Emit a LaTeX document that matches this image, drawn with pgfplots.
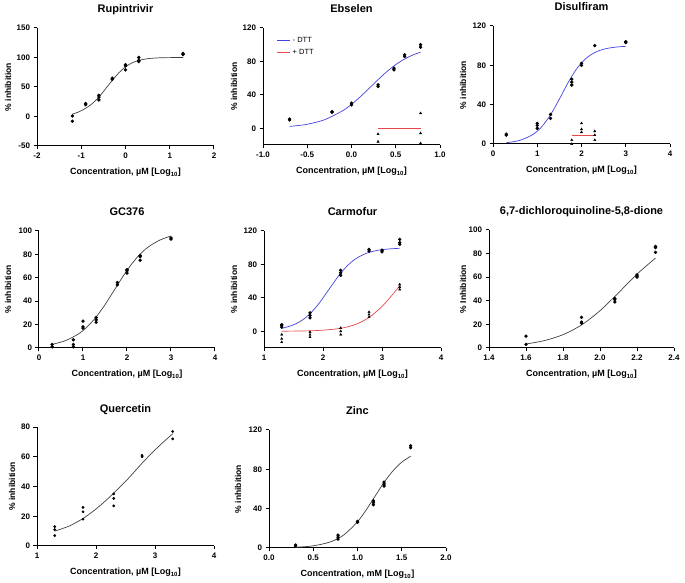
\documentclass[border=0pt]{standalone}
\usepackage{fontspec}
\setmainfont{Liberation Sans}
\usepackage{pgfplots}
\pgfplotsset{compat=1.18}

\definecolor{fitblue}{RGB}{66,66,225}
\definecolor{fitred}{RGB}{232,72,72}

\pgfplotsset{
  prism/.style={
    scale only axis,
    axis x line*=bottom, axis y line*=left,
    axis line style={line width=1pt, black},
    tick align=outside, major tick length=3.5pt,
    tick style={line width=1pt, black},
    ticklabel style={font=\bfseries\fontsize{8}{9}\selectfont},
    /pgf/number format/assume math mode=true,
    every axis title/.style={font=\bfseries\fontsize{11}{12}\selectfont,
      at={(axis description cs:0.5,1)}, anchor=base, yshift=15pt},
    xlabel style={font=\bfseries\fontsize{9}{10}\selectfont,
      at={([yshift=-29pt]axis description cs:0.5,0)}, anchor=base},
    ylabel style={font=\bfseries\fontsize{8.5}{10}\selectfont, anchor=center},
    ylabel={\% inhibition},
    xlabel={Concentration, µM [Log\textsubscript{10}]},
    clip=false,
  },
  dots/.style={only marks, mark=*, mark size=1.5pt, black, forget plot},
  tris/.style={only marks, mark=triangle*, mark size=1.3pt, black, forget plot},
  fit/.style={smooth, line width=0.7pt, black!75, no marks},
  onedec/.style={xticklabel style={/pgf/number format/.cd, fixed, fixed zerofill, precision=1}},
}

\begin{document}
\begin{tikzpicture}
\useasboundingbox (0,0) rectangle (685pt,583pt);

% Rupintrivir
\begin{axis}[prism, at={(37pt,437pt)}, anchor=south west, width=177pt, height=118pt,
  title={Rupintrivir}, xmin=-2, xmax=2, ymin=-50, ymax=150,
  xtick={-2,-1,0,1,2}, ytick={-50,0,50,100,150},
  ylabel style={at={([xshift=-29pt]axis description cs:0,0.5)}}]
\addplot[dots] coordinates {(-1.2,1)(-1.2,-8)(-0.9,20)(-0.9,22)(-0.6,28)(-0.6,33)(-0.6,36)
  (-0.3,63)(-0.3,65)(0,79)(0,86)(0,88)(0.3,93)(0.3,95)(0.3,100)(1.3,105)(1.3,107)};
\addplot[fit] coordinates {(-1.2,4)(-1.05,8)(-0.9,14)(-0.75,22)(-0.6,33)(-0.45,47)(-0.3,61)
  (-0.15,74)(0,84)(0.15,91)(0.3,95)(0.5,98)(0.75,99.4)(1.0,99.8)(1.3,100)};
\end{axis}

% Ebselen
\begin{axis}[prism, onedec, at={(263pt,438pt)}, anchor=south west, width=177pt, height=117pt,
  title={Ebselen}, xmin=-1, xmax=1, ymin=-20, ymax=120,
  xtick={-1,-0.5,0,0.5,1}, ytick={0,40,80,120},
  ylabel style={at={([xshift=-29pt]axis description cs:0,0.5)}},
  legend style={draw=none, fill=none, at={(0.06,0.96)}, anchor=north west,
    font=\fontsize{7.5}{9}\selectfont, row sep=2pt},
  legend cell align=left,
  legend image code/.code={\draw[#1] (0pt,0pt) -- (13pt,0pt);}]
\addplot[dots] coordinates {(-0.7,10)(-0.7,11)(-0.22,19)(-0.22,20)(0,28)(0,30)(0.3,50)(0.3,52)
  (0.48,70)(0.48,72)(0.6,86)(0.6,88)(0.78,97)(0.78,100)};
\addplot[tris] coordinates {(0.3,-7)(0.3,-16)(0.78,18)(0.78,-6)(0.78,-18)};
\addplot[smooth, line width=0.7pt, fitblue] coordinates {(-0.7,2.2)(-0.5,4.8)(-0.3,10.4)(-0.1,21)
  (0,28.6)(0.1,37.8)(0.2,47.9)(0.3,58.2)(0.4,67.8)(0.5,76.2)(0.6,82.9)(0.7,88)(0.78,91)};
\addlegendentry{- DTT}
\addplot[line width=0.9pt, fitred] coordinates {(0.3,0)(0.78,0)};
\addlegendentry{+ DTT}
\end{axis}

% Disulfiram
\begin{axis}[prism, at={(493pt,439pt)}, anchor=south west, width=177pt, height=118pt,
  title={Disulfiram}, xmin=0, xmax=4, ymin=0, ymax=120,
  xtick={0,1,2,3,4}, ytick={0,40,80,120},
  ylabel style={at={([xshift=-30pt]axis description cs:0,0.5)}}]
\addplot[dots] coordinates {(0.3,9)(0.3,10)(1,16)(1,19)(1,21)(1.3,26)(1.3,30)(1.78,60)(1.78,63)(1.78,66)
  (2,80)(2,82)(2.3,100)(3,103)(3,104)};
\addplot[tris] coordinates {(1.78,4)(1.78,0)(2,21)(2,15)(2,12)(2.3,4)(2.3,9)(2.3,13)};
\addplot[smooth, line width=0.7pt, fitblue] coordinates {(0.3,1.3)(0.6,3.6)(0.9,9.6)(1.1,17.5)(1.3,29.7)
  (1.5,45.7)(1.7,62.7)(1.9,77)(2.1,87)(2.3,93)(2.5,96.4)(2.75,98.4)(3,99.3)};
\addplot[line width=0.9pt, fitred] coordinates {(1.78,9)(2.3,9)};
\end{axis}

% GC376
\begin{axis}[prism, at={(39pt,235pt)}, anchor=south west, width=176pt, height=117pt,
  title={GC376}, xmin=0, xmax=4, ymin=0, ymax=100,
  xtick={0,1,2,3,4}, ytick={0,20,40,60,80,100},
  ylabel style={at={([xshift=-31pt]axis description cs:0,0.5)}}]
\addplot[dots] coordinates {(0.3,1)(0.3,3)(0.78,1)(0.78,3)(0.78,7)(1,17)(1,18)(1,23)(1.3,22)(1.3,24)(1.3,26)
  (1.78,54)(1.78,56)(2,64)(2,66)(2,67)(2.3,75)(2.3,78)(2.3,79)(3,93)(3,94)};
\addplot[fit] coordinates {(0.3,3.1)(0.6,6.25)(0.9,12.1)(1.1,18.3)(1.3,26.6)(1.5,37)(1.7,48.8)
  (1.9,60.7)(2.1,71.5)(2.3,80.3)(2.5,86.8)(2.75,92.3)(3,95.7)};
\end{axis}

% Carmofur
\begin{axis}[prism, at={(264pt,235pt)}, anchor=south west, width=177pt, height=117pt,
  title={Carmofur}, xmin=1, xmax=4, ymin=-20, ymax=120,
  xtick={1,2,3,4}, ytick={0,40,80,120},
  ylabel style={at={([xshift=-30pt]axis description cs:0,0.5)}}]
\addplot[dots] coordinates {(1.3,5)(1.3,7)(1.3,8)(1.78,16)(1.78,19)(1.78,22)(2.3,67)(2.3,70)(2.3,73)
  (2.78,96)(2.78,98)(3,95)(3,97)(3.3,104)(3.3,106)(3.3,110)};
\addplot[tris] coordinates {(1.3,-4)(1.3,-9)(1.3,-13)(1.78,-1)(1.78,-4)(1.78,-7)(2.3,4)(2.3,0)(2.3,-4)
  (2.78,17)(2.78,20)(2.78,23)(3.3,50)(3.3,53)(3.3,56)};
\addplot[smooth, line width=0.7pt, fitblue] coordinates {(1.3,3.5)(1.5,7.7)(1.7,16)(1.9,30.4)(2.1,50)
  (2.3,69.6)(2.5,84)(2.7,92.3)(2.9,96.5)(3.1,98.4)(3.3,99.3)};
\addplot[smooth, line width=0.7pt, fitred] coordinates {(1.3,0.1)(1.6,0.3)(1.9,0.9)(2.2,2.6)(2.4,5)
  (2.6,9.6)(2.8,17.5)(3,29.7)(3.15,41.5)(3.3,54.3)};
\end{axis}

% 6,7-dichloroquinoline-5,8-dione
\begin{axis}[prism, onedec, at={(489pt,235pt)}, anchor=south west, width=185pt, height=118pt,
  title={6,7-dichloroquinoline-5,8-dione}, xmin=1.4, xmax=2.4, ymin=0, ymax=100,
  xtick={1.4,1.6,1.8,2.0,2.2,2.4}, ytick={0,20,40,60,80,100},
  ylabel={\% Inhibition},
  ylabel style={at={([xshift=-26pt]axis description cs:0,0.5)}}]
\addplot[dots] coordinates {(1.6,3)(1.6,10)(1.9,21)(1.9,22)(1.9,26)(2.08,39)(2.08,41)(2.08,42)
  (2.2,60)(2.2,61)(2.2,62)(2.3,81)(2.3,85)(2.3,86)};
\addplot[fit] coordinates {(1.6,3.4)(1.7,6.3)(1.8,11.3)(1.9,19.5)(2,31.6)(2.1,46.8)(2.2,62.6)(2.3,76.2)};
\end{axis}

% Quercetin
\begin{axis}[prism, at={(37pt,37pt)}, anchor=south west, width=177pt, height=119pt,
  title={Quercetin}, xmin=1, xmax=4, ymin=0, ymax=80,
  xtick={1,2,3,4}, ytick={0,20,40,60,80},
  ylabel style={at={([xshift=-25pt]axis description cs:0,0.5)}}]
\addplot[dots, mark size=1.2pt] coordinates {(1.3,7)(1.3,11)(1.3,13)(1.78,18)(1.78,23)(1.78,26)
  (2.3,27)(2.3,32)(2.3,35)(2.78,60)(2.78,61)(3.3,72)(3.3,77)};
\addplot[fit] coordinates {(1.3,10)(1.55,13.5)(1.8,19)(2.05,26.5)(2.3,35.5)(2.55,45.5)(2.8,56.5)
  (3.05,66.5)(3.3,75.5)};
\end{axis}

% Zinc
\begin{axis}[prism, onedec, at={(269pt,35pt)}, anchor=south west, width=177pt, height=118pt,
  title={Zinc}, xmin=0, xmax=2, ymin=0, ymax=120,
  xtick={0,0.5,1,1.5,2}, ytick={0,40,80,120},
  xlabel={Concentration, mM [Log\textsubscript{10}]},
  ylabel style={at={([xshift=-31pt]axis description cs:0,0.5)}}]
\addplot[dots] coordinates {(0.3,2)(0.3,3)(0.78,9)(0.78,11)(0.78,13)(1,26)(1,27)(1.18,44)(1.18,46)(1.18,48)
  (1.3,63)(1.3,65)(1.3,67)(1.6,102)(1.6,104)};
\addplot[fit] coordinates {(0.3,0.75)(0.5,2.2)(0.7,6.4)(0.85,13.6)(1,26.7)(1.1,39)(1.2,52.9)(1.3,66.7)
  (1.4,78.4)(1.5,87.3)(1.6,93.3)};
\end{axis}
\end{tikzpicture}
\end{document}
